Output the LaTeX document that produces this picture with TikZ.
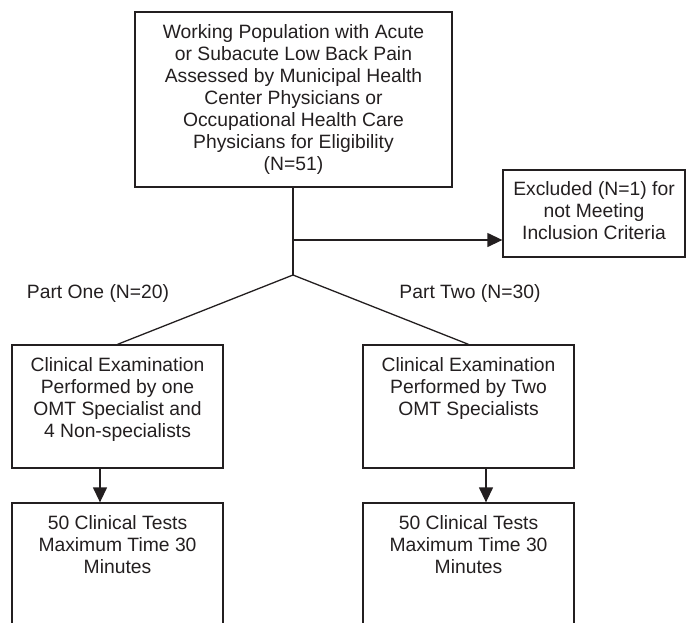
\documentclass[tikz,border=0pt]{standalone}
\usepackage{fontspec}
\setmainfont{Liberation Sans}
\usetikzlibrary{arrows.meta,calc}
\definecolor{ink}{HTML}{231F20}
\tikzset{
  boxnode/.style={draw=ink, line width=1.3pt, rectangle, inner sep=0pt},
  txt/.style={text=ink, align=center, inner sep=0pt, anchor=north,
    font=\fontsize{19.3}{22}\selectfont},
  lbl/.style={text=ink, inner sep=0pt, font=\fontsize{19.3}{22}\selectfont},
  conn/.style={draw=ink, line width=1.3pt},
  arr/.style={conn, -{Triangle[length=15pt,width=14pt]}},
}
\begin{document}
\begin{tikzpicture}[x=1pt,y=-1pt]
\useasboundingbox (0,0) rectangle (686,622);
\clip (0,0) rectangle (686,622);
% boxes
\node[boxnode, minimum width=317pt, minimum height=175pt] (top) at (293.5,99.5) {};
\node[boxnode, minimum width=182pt, minimum height=87pt] (excl) at (594,213.5) {};
\node[boxnode, minimum width=211pt, minimum height=123pt] (lbox) at (117.5,406.5) {};
\node[boxnode, minimum width=211pt, minimum height=123pt] (rbox) at (468.5,406.5) {};
\node[boxnode, minimum width=211pt, minimum height=150pt] (lbot) at (117.5,578) {};
\node[boxnode, minimum width=211pt, minimum height=150pt] (rbot) at (468.5,578) {};
% texts
\node[txt] (ttop) at ([yshift=-13pt]top.north) {Working Population with Acute\\or Subacute Low Back Pain\\Assessed by Municipal Health\\Center Physicians or\\Occupational Health Care\\Physicians for Eligibility\\(N=51)};
\node[txt] (texcl) at ([yshift=-12pt]excl.north) {Excluded (N=1) for\\not Meeting\\Inclusion Criteria};
\node[txt] (tl) at ([yshift=-13pt]lbox.north) {Clinical Examination\\Performed by one\\OMT Specialist and\\4 Non-specialists};
\node[txt] (tr) at ([yshift=-13pt]rbox.north) {Clinical Examination\\Performed by Two\\OMT Specialists};
\node[txt] (tlb) at ([yshift=-13pt]lbot.north) {50 Clinical Tests\\Maximum Time 30\\Minutes};
\node[txt] (trb) at ([yshift=-13pt]rbot.north) {50 Clinical Tests\\Maximum Time 30\\Minutes};
\node[lbl] (p1) at (98,293) {Part One (N=20)};
\node[lbl] (p2) at (470,293) {Part Two (N=30)};
% connectors
\coordinate (j) at (293,275);
\coordinate (b) at (293,240);
\draw[conn] (top.south -| j) -- (j);
\draw[arr] (b) -- (b -| excl.west);
\draw[conn] (lbox.north) -- (j) -- (rbox.north);
\draw[arr] ([xshift=-17.5pt]lbox.south) -- ([xshift=-17.5pt]lbot.north);
\draw[arr] ([xshift=17.5pt]rbox.south) -- ([xshift=17.5pt]rbot.north);
\end{tikzpicture}
\end{document}
